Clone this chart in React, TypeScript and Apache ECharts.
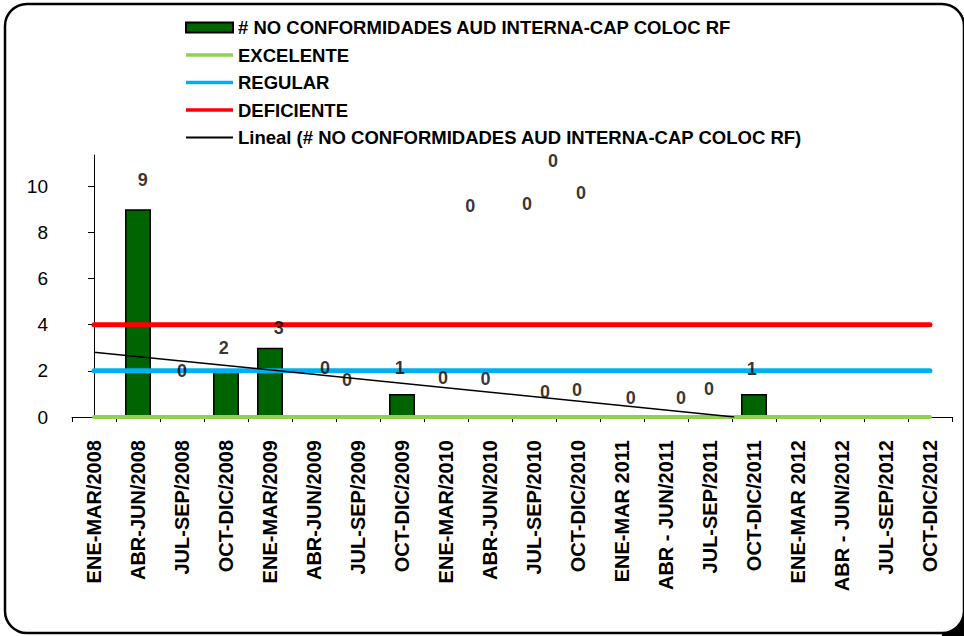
import React, { useEffect, useRef } from "react";
import * as echarts from "echarts";

const categories = [
  "ENE-MAR/2008", "ABR-JUN/2008", "JUL-SEP/2008", "OCT-DIC/2008",
  "ENE-MAR/2009", "ABR-JUN/2009", "JUL-SEP/2009", "OCT-DIC/2009",
  "ENE-MAR/2010", "ABR-JUN/2010", "JUL-SEP/2010", "OCT-DIC/2010",
  "ENE-MAR 2011", "ABR - JUN/2011", "JUL-SEP/2011", "OCT-DIC/2011",
  "ENE-MAR 2012", "ABR - JUN/2012", "JUL-SEP/2012", "OCT-DIC/2012",
];

const noConformidades = [null, 9, 0, 2, 3, 0, 0, 1, 0, 0, 0, 0, 0, 0, 0, 1, null, null, null, null];
const excelente = [0, 0, 0, 0, 0, 0, 0, 0, 0, 0, 0, 0, 0, 0, 0, 0, 0, 0, 0, 0];
const regular = [2, 2, 2, 2, 2, 2, 2, 2, 2, 2, 2, 2, 2, 2, 2, 2, 2, 2, 2, 2];
const deficiente = [4, 4, 4, 4, 4, 4, 4, 4, 4, 4, 4, 4, 4, 4, 4, 4, 4, 4, 4, 4];

// Linear trendline endpoints (category index, value)
const trendX = [0, 14.55];
const trendY = [2.81, 0];

// Data labels as they were placed in the original (category index, value, text)
const labelPosX = [1.11, 2.0, 2.95, 4.2, 5.25, 5.75, 6.95, 7.93, 8.9, 10.25, 10.98, 12.2, 13.34, 13.98, 14.95, 8.55, 9.84, 10.43, 11.07];
const labelPosY = [10.26, 1.99, 2.99, 3.85, 2.12, 1.6, 2.12, 1.69, 1.65, 1.08, 1.17, 0.82, 0.82, 1.21, 2.08, 9.13, 9.22, 11.08, 9.7];
const labelText = ["9", "0", "2", "3", "0", "0", "1", "0", "0", "0", "0", "0", "0", "0", "1", "0", "0", "0", "0"];

const yTicks = [0, 2, 4, 6, 8, 10];

const FONT = "'Liberation Sans', Arial, sans-serif";
const LINE_ICON = "path://M0,0 L47,0 L47,3.5 L0,3.5 Z";

// bottom-right corner fill outside the rounded frame
function cornerPoints() {
  const cx = 942, cy = 611, r = 22;
  const pts: number[][] = [];
  for (let a = 0; a <= 90; a += 5) {
    const t = (a * Math.PI) / 180;
    pts.push([cx + r * Math.cos(t), cy + r * Math.sin(t)]);
  }
  pts.push([942, 636], [966, 636], [966, 611]);
  return pts;
}

export default function App() {
  const ref = useRef<HTMLDivElement>(null);
  useEffect(() => {
    if (!ref.current) return;
    const chart = echarts.init(ref.current, null, { renderer: "svg" });
    const names = [
      "# NO CONFORMIDADES AUD INTERNA-CAP COLOC RF",
      "EXCELENTE",
      "REGULAR",
      "DEFICIENTE",
      "Lineal (# NO CONFORMIDADES AUD INTERNA-CAP COLOC RF)",
    ];
    chart.setOption({
      animation: false,
      backgroundColor: "#ffffff",
      textStyle: { fontFamily: FONT },
      graphic: [
        {
          type: "rect",
          shape: { x: 5, y: 4, width: 959, height: 629, r: 22 },
          style: { fill: "none", stroke: "#000", lineWidth: 2.5 },
          z: 100,
        },
        {
          type: "polygon",
          shape: { points: cornerPoints() },
          style: { fill: "#000" },
          z: 100,
        },
      ],
      legend: {
        orient: "vertical",
        left: 185,
        top: 18,
        padding: 0,
        itemWidth: 47,
        itemHeight: 10,
        itemGap: 8.5,
        textStyle: { fontFamily: FONT, fontWeight: "bold", fontSize: 18.5, color: "#000" },
        data: [
          { name: names[0], icon: "rect" },
          { name: names[1], icon: LINE_ICON },
          { name: names[2], icon: LINE_ICON },
          { name: names[3], icon: LINE_ICON },
          { name: names[4], icon: "path://M0,0 L47,0 L47,2 L0,2 Z" },
        ],
      },
      grid: { left: 72, right: 12, top: 155, bottom: 219, containLabel: false },
      xAxis: [
        {
          type: "category",
          data: categories,
          boundaryGap: true,
          axisLine: { lineStyle: { color: "#000", width: 1 } },
          axisTick: { show: true, interval: 0, length: 5, lineStyle: { color: "#000" } },
          axisLabel: {
            interval: 0,
            rotate: 90,
            margin: 23,
            color: "#000",
            fontFamily: FONT,
            fontWeight: "bold",
            fontSize: 20,
          },
          splitLine: { show: false },
        },
        {
          type: "value",
          min: -0.5,
          max: 19.5,
          show: false,
        },
      ],
      yAxis: {
        type: "value",
        min: 0,
        max: 11.35,
        interval: 2,
        axisLine: { show: true, lineStyle: { color: "#000", width: 1 } },
        axisTick: { show: true, length: 6, customValues: yTicks, lineStyle: { color: "#000" } },
        axisLabel: {
          customValues: yTicks,
          margin: 24,
          color: "#000",
          fontFamily: FONT,
          fontSize: 19,
        },
        splitLine: { show: false },
      },
      series: [
        {
          name: names[0],
          type: "bar",
          data: noConformidades,
          barWidth: 26,
          itemStyle: { color: "#006400", borderColor: "#000", borderWidth: 1.5 },
          z: 2,
        },
        {
          name: names[1],
          type: "line",
          data: excelente,
          symbol: "none",
          lineStyle: { color: "#92D050", width: 4, cap: "round" },
          itemStyle: { color: "#92D050" },
          z: 3,
        },
        {
          name: names[2],
          type: "line",
          data: regular,
          symbol: "none",
          lineStyle: { color: "#00B0F0", width: 5, cap: "round" },
          itemStyle: { color: "#00B0F0" },
          z: 3,
        },
        {
          name: names[3],
          type: "line",
          data: deficiente,
          symbol: "none",
          lineStyle: { color: "#FF0000", width: 5, cap: "round" },
          itemStyle: { color: "#FF0000" },
          z: 3,
        },
        {
          name: names[4],
          type: "line",
          xAxisIndex: 1,
          data: trendX.map((x, i) => [x, trendY[i]]),
          symbol: "none",
          lineStyle: { color: "#000", width: 1.5 },
          itemStyle: { color: "#000" },
          z: 4,
        },
        {
          name: "labels",
          type: "scatter",
          xAxisIndex: 1,
          symbolSize: 0,
          silent: true,
          data: labelPosX.map((x, i) => [x, labelPosY[i]]),
          label: {
            show: true,
            position: "inside",
            formatter: (p: any) => labelText[p.dataIndex],
            color: "#000",
            fontFamily: FONT,
            fontWeight: "bold",
            fontSize: 18,
          },
          z: 5,
        },
      ],
    });
    return () => chart.dispose();
  }, []);
  return (
    <div
      ref={ref}
      style={{ position: "fixed", left: 0, top: 0, width: 964, height: 636 }}
    />
  );
}
